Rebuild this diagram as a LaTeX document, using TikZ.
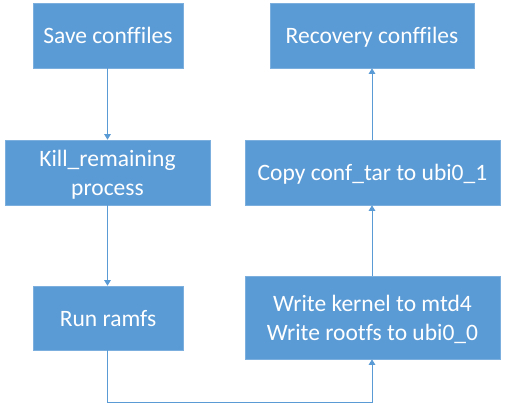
\documentclass[tikz,border=0pt]{standalone}
\usepackage{fontspec}
\setmainfont{Carlito}[Ligatures={NoCommon}]
\usetikzlibrary{arrows.meta}
\definecolor{boxblue}{HTML}{5B9BD5}
\tikzset{
  flowbox/.style={draw=boxblue!80!white, line width=0.6pt, fill=boxblue, text=white, inner sep=0pt, align=center, text depth=0pt, font=\fontsize{23.5}{29}\selectfont},
  flowline/.style={draw=boxblue, line width=0.9pt},
  flowarrow/.style={flowline, -{Triangle[width=6.5pt,length=5.5pt]}}
}
\begin{document}
\begin{tikzpicture}[x=1pt,y=1pt]
\useasboundingbox (0,0) rectangle (506,404);
\node[flowbox, minimum width=150pt, minimum height=65pt] (save) at (108,368.5) {Save conffiles};
\node[flowbox, minimum width=205pt, minimum height=65pt] (kill) at (107.5,231.5) {Kill\_remaining\\process};
\node[flowbox, minimum width=150pt, minimum height=64pt] (run) at (108,86) {Run ramfs};
\node[flowbox, minimum width=204pt, minimum height=65pt] (rec) at (372,368.5) {Recovery conffiles};
\node[flowbox, minimum width=255pt, minimum height=65pt] (copy) at (372.5,231.5) {Copy conf\_tar to ubi0\_1};
\node[flowbox, minimum width=255pt, minimum height=83pt] (write) at (372.5,86.5) {Write kernel to mtd4\\Write rootfs to ubi0\_0};
\coordinate (bl) at (107.5,2);
\coordinate (br) at (372,2);
\draw[flowarrow] (save.south -| 107.5,0) -- (kill.north -| 107.5,0);
\draw[flowarrow] (kill.south -| 107.5,0) -- (run.north -| 107.5,0);
\draw[flowarrow] (run.south -| bl) -- (bl) -- (br) -- (write.south -| br);
\draw[flowarrow] (write.north -| br) -- (copy.south -| br);
\draw[flowarrow] (copy.north -| br) -- (rec.south -| br);
\end{tikzpicture}
\end{document}
